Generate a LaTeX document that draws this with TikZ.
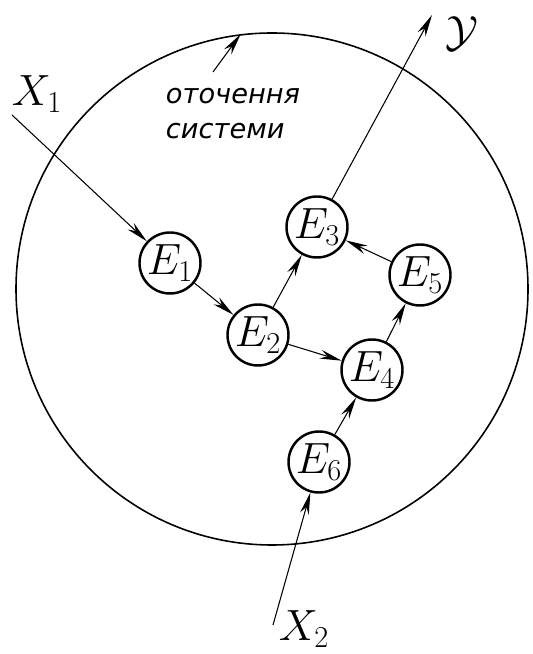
\documentclass[tikz,border=0pt]{standalone}
\usepackage{fontspec}
\usepackage{amsmath}
\newfontfamily\handfont{DejaVu Sans}
\usetikzlibrary{arrows.meta}

\begin{document}
\begin{tikzpicture}[
        elem/.style={circle,draw,line width=1.4pt,minimum size=1.22cm,inner sep=0pt,
            font=\fontsize{23}{27}\selectfont},
        flow/.style={-{Stealth[length=4.4mm,width=1.8mm]},line width=0.6pt},
        biglab/.style={font=\fontsize{26}{30}\selectfont}
    ]
    \useasboundingbox (0,0) rectangle (10.66,13.08);

    % environment boundary
    \node[circle,draw,line width=0.9pt,minimum size=10.24cm,inner sep=0pt] (env) at (5.44,7.30) {};

    % elements of the system
    \node[elem] (e1) at (3.40,7.82) {$E_1$};
    \node[elem] (e2) at (5.16,6.38) {$E_2$};
    \node[elem] (e3) at (6.34,8.54) {$E_3$};
    \node[elem] (e4) at (7.44,5.68) {$E_4$};
    \node[elem] (e5) at (8.40,7.58) {$E_5$};
    \node[elem] (e6) at (6.38,3.84) {$E_6$};

    % inputs and output
    \coordinate (x1) at (0.24,10.78);
    \coordinate (x2) at (5.46,0.58);
    \coordinate (y) at (8.64,12.78);
    \node[biglab] (x1lab) at (0.74,11.20) {$X_1$};
    \node[biglab] (x2lab) at (6.08,0.50) {$X_2$};
    \node[biglab] (ylab) at (9.24,12.40) {$\mathcal{Y}$};

    % label of the environment
    \node[align=left,font=\handfont\itshape\fontsize{15.5}{20}\selectfont] (envlab) at (4.66,10.80)
        {оточення\\системи};
    \coordinate (ptr) at (4.26,11.64);

    \draw[flow] (x1) -- (e1);
    \draw[flow] (e1) -- (e2);
    \draw[flow] (e2) -- (e3);
    \draw[flow] (e2) -- (e4);
    \draw[flow] (e4) -- (e5);
    \draw[flow] (e5) -- (e3);
    \draw[flow] (e6) -- (e4);
    \draw[flow] (x2) -- (e6);
    \draw[flow] (e3) -- (y);
    \draw[flow] (ptr) -- (env.97);
\end{tikzpicture}
\end{document}
